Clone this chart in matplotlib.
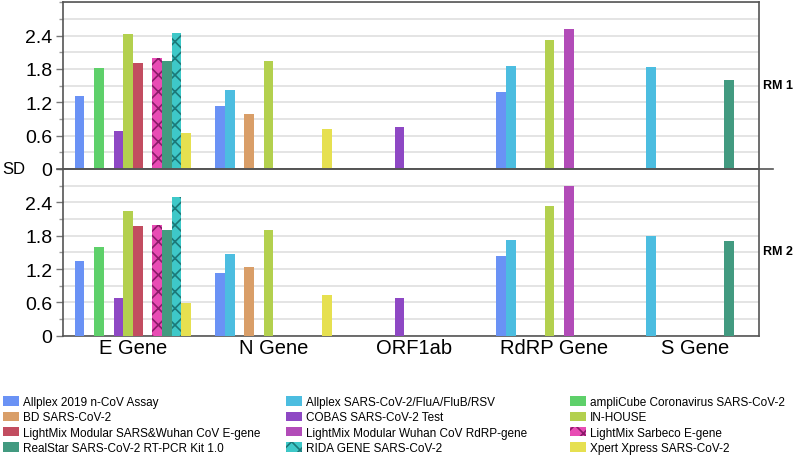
import matplotlib
matplotlib.use("Agg")
import matplotlib.pyplot as plt
import numpy as np
from matplotlib.lines import Line2D
from matplotlib.patches import Patch
from matplotlib.ticker import MultipleLocator

plt.rcParams['font.family'] = ['Liberation Sans', 'DejaVu Sans']
plt.rcParams['hatch.linewidth'] = 1.2

genes = ["E Gene", "N Gene", "ORF1ab", "RdRP Gene", "S Gene"]
assays = [
    "Allplex 2019 n-CoV Assay",
    "Allplex SARS-CoV-2/FluA/FluB/RSV",
    "ampliCube Coronavirus SARS-CoV-2",
    "BD SARS-CoV-2",
    "COBAS SARS-CoV-2 Test",
    "IN-HOUSE",
    "LightMix Modular SARS&Wuhan CoV E-gene",
    "LightMix Modular Wuhan CoV RdRP-gene",
    "LightMix Sarbeco E-gene",
    "RealStar SARS-CoV-2 RT-PCR Kit 1.0",
    "RIDA GENE SARS-CoV-2",
    "Xpert Xpress SARS-CoV-2",
]
colors = ["#6a92f5", "#4cbde0", "#5ed06a", "#d99e68", "#8e48c4", "#b3d04e",
          "#c24d60", "#b24cb8", "#e84cb4", "#429a80", "#3ec8c8", "#e6e050"]
hatch_colors = {8: "#8a1a6a", 10: "#1b7878"}

nan = np.nan
# values per assay, per gene (E, N, ORF1ab, RdRP, S)
rm1 = [
    [1.32, 1.13, nan, 1.38, nan],
    [nan, 1.42, nan, 1.86, 1.84],
    [1.82, nan, nan, nan, nan],
    [nan, 0.99, nan, nan, nan],
    [0.68, nan, 0.75, nan, nan],
    [2.43, 1.94, nan, 2.32, nan],
    [1.90, nan, nan, nan, nan],
    [nan, nan, nan, 2.52, nan],
    [1.99, nan, nan, nan, nan],
    [1.95, nan, nan, nan, 1.61],
    [2.44, nan, nan, nan, nan],
    [0.64, 0.72, nan, nan, nan],
]
rm2 = [
    [1.35, 1.12, nan, 1.44, nan],
    [nan, 1.47, nan, 1.73, 1.80],
    [1.60, nan, nan, nan, nan],
    [nan, 1.24, nan, nan, nan],
    [0.67, nan, 0.68, nan, nan],
    [2.25, 1.91, nan, 2.33, nan],
    [1.98, nan, nan, nan, nan],
    [nan, nan, nan, 2.69, nan],
    [2.00, nan, nan, nan, nan],
    [1.91, nan, nan, nan, 1.71],
    [2.49, nan, nan, nan, nan],
    [0.59, 0.74, nan, nan, nan],
]
panel_labels = ["RM 1", "RM 2"]

W, H = 800, 456
fig = plt.figure(figsize=(W / 100, H / 100), dpi=100)
L, R = 63 / W, 759 / W
y_top, y_mid, y_bot = 1 - 3.3 / H, 1 - 170 / H, 1 - 336.7 / H
ax1 = fig.add_axes([L, y_mid, R - L, y_top - y_mid])
ax2 = fig.add_axes([L, y_bot, R - L, y_mid - y_bot])

x = np.arange(len(genes))
bw = 0.069
spine_col = "#555555"
for ax, data, lab in zip([ax1, ax2], [rm1, rm2], panel_labels):
    for k, (vals, c) in enumerate(zip(data, colors)):
        pos = x + (k - 5.5) * bw
        if k in hatch_colors:
            ax.bar(pos, vals, width=bw, color=c, edgecolor=hatch_colors[k],
                   linewidth=0, hatch='xx', zorder=3)
        else:
            ax.bar(pos, vals, width=bw, color=c, linewidth=0, zorder=3)
    ax.set_xlim(-0.498, 4.456)
    ax.set_ylim(0, 3.0)
    ax.yaxis.set_minor_locator(MultipleLocator(0.3))
    ax.set_yticks([0, 0.6, 1.2, 1.8, 2.4])
    ax.set_yticklabels(["0", "0.6", "1.2", "1.8", "2.4"])
    ax.grid(True, which='both', axis='y', color='#dcdcdc', linewidth=1.1, zorder=0)
    ax.set_axisbelow(True)
    ax.tick_params(axis='y', which='major', length=5, width=1, color='#777777',
                   labelsize=14, pad=2.5)
    ax.tick_params(axis='y', which='minor', length=3, width=1, color='#999999')
    ax.tick_params(axis='x', length=0)
    for s in ax.spines.values():
        s.set_color(spine_col)
        s.set_linewidth(1.2)
    ax.set_xticks(x)

ax1.set_xticklabels([])
ax2.set_xticklabels(genes, fontsize=14.5)
ax2.tick_params(axis='x', pad=2)

# divider line extended beyond axes
fig.add_artist(Line2D([57 / W, 773 / W], [y_mid, y_mid], color=spine_col,
                      linewidth=1.2, transform=fig.transFigure))

fig.text(2 / W, y_mid, "SD", fontsize=12, ha='left', va='center')
fig.text(763 / W, 1 - 86 / H, panel_labels[0], fontsize=9, fontweight='bold',
         ha='left', va='center')
fig.text(763 / W, 1 - 252 / H, panel_labels[1], fontsize=9, fontweight='bold',
         ha='left', va='center')

# legend: 3 columns, row-major ordering
col_x = [2.7 / W, 286 / W, 570 / W]
for ci in range(3):
    idx = list(range(ci, len(assays), 3))
    handles = []
    for k in idx:
        if k in hatch_colors:
            handles.append(Patch(facecolor=colors[k], edgecolor=hatch_colors[k],
                                 linewidth=0, hatch='xx'))
        else:
            handles.append(Patch(facecolor=colors[k], linewidth=0))
    fig.legend(handles, [assays[k] for k in idx], loc='upper left',
               bbox_to_anchor=(col_x[ci], 1 - 397 / H), frameon=False,
               fontsize=8.5, handlelength=1.36, handleheight=0.85,
               handletextpad=0.35, labelspacing=0.28, borderpad=0,
               borderaxespad=0)

fig.savefig("out.png", dpi=100)
